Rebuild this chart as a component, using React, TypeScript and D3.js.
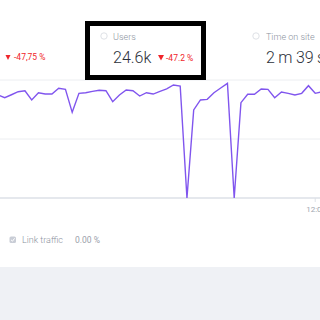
import React from "react";
import * as d3 from "d3";

const hours: number[] = d3.range(-5, 44);
const users: number[] = [
  873, 850, 875, 901, 909, 831, 892, 881, 881, 930, 921, 726, 887, 892, 904, 913,
  909, 816, 873, 915, 909, 864, 892, 881, 904, 924, 958, 949, 0, 746, 831, 836,
  892, 932, 972, 0, 808, 879, 879, 924, 921, 850, 898, 887, 873, 887, 952, 887, 901,
];
const gridValues: number[] = [0, 500, 1000];
const tickHours: number[] = [42];
const tickLabels: string[] = ["12:00"];

export default function App() {
  const W = 320;
  const H = 320;
  const x = d3.scaleLinear().domain([0, 1]).range([31.7, 38.45]);
  const y = d3.scaleLinear().domain([0, 1000]).range([198, 80]);
  const line = d3
    .line<number>()
    .x((_, i) => x(hours[i]))
    .y((d) => y(d));
  const font = "Roboto, 'Noto Sans', sans-serif";
  const red = "#f0252b";
  const grey = "#8c93a0";
  return (
    <svg
      width={W}
      height={H}
      style={{ position: "fixed", left: 0, top: 0, background: "#fff" }}
      fontFamily={font}
    >
      <rect x={0} y={0} width={W} height={H} fill="#fff" />
      {gridValues.map((g) => (
        <line
          key={g}
          x1={0}
          x2={W}
          y1={y(g)}
          y2={y(g)}
          stroke={g === 0 ? "#dde1e7" : "#eceef1"}
          strokeWidth={g === 0 ? 1.5 : 1}
        />
      ))}
      <path d={line(users) || ""} fill="none" stroke="#8055ee" strokeWidth={1.4} strokeLinejoin="miter" />
      {tickHours.map((h, i) => (
        <g key={h}>
          <line x1={x(h)} x2={x(h)} y1={198} y2={202} stroke="#dde1e7" />
          <text x={x(h) - 9} y={212} fontSize={8} fill="#a0a6b0">
            {tickLabels[i]}
          </text>
        </g>
      ))}

      {/* left metric delta */}
      <path d="M5.5,55 L10.5,55 L8,60 Z" fill={red} />
      <text x={14} y={60} fontSize={8.5} fill={red}>
        -47,75 %
      </text>

      {/* Users box */}
      <rect x={87.5} y={23.5} width={116} height={54} fill="#fff" stroke="#000" strokeWidth={5} />
      <circle cx={104} cy={36} r={3.2} fill="none" stroke="#dfe2e7" strokeWidth={1} />
      <text x={113} y={40} fontSize={9} fill={grey} fontWeight={300}>
        Users
      </text>
      <text x={113} y={63} fontSize={16} fill="#2c313a" fontWeight={300}>
        24.6k
      </text>
      <path d="M158,55 L164,55 L161,60.5 Z" fill={red} />
      <text x={166} y={61} fontSize={8.5} fill={red}>
        -47.2 %
      </text>

      {/* Time on site */}
      <circle cx={256} cy={36} r={3.2} fill="none" stroke="#dfe2e7" strokeWidth={1} />
      <text x={266} y={40} fontSize={9} fill={grey} fontWeight={300}>
        Time on site
      </text>
      <text x={266} y={63} fontSize={16} fill="#2c313a" fontWeight={300} letterSpacing={-0.2}>
        2 m 39 s
      </text>

      {/* Link traffic */}
      <rect x={9.5} y={236.5} width={6.5} height={6.5} rx={1.5} fill="#c9cdd6" />
      <path d="M11,239.8 L12.5,241.2 L14.6,238.3" fill="none" stroke="#fff" strokeWidth={1} />
      <text x={22} y={243} fontSize={9} fill={grey} fontWeight={300}>
        Link traffic
      </text>
      <text x={75} y={243} fontSize={8.5} fill="#9aa0aa">
        0.00 %
      </text>

      <rect x={0} y={267} width={W} height={H - 267} fill="#eff1f5" />
    </svg>
  );
}
